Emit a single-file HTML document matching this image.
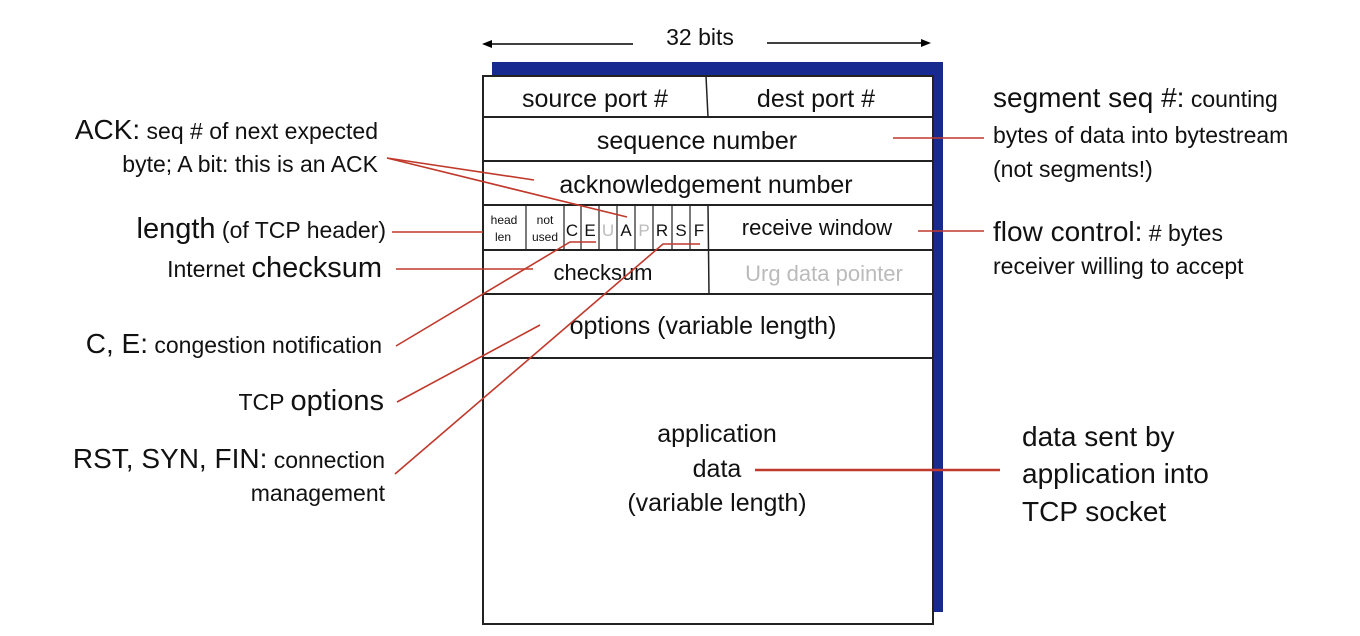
<!DOCTYPE html>
<html><head><meta charset="utf-8"><style>
html,body{margin:0;padding:0;background:#fff;}
svg{display:block;}
text{font-family:"Liberation Sans",sans-serif;fill:#111;}
</style></head><body>
<svg width="1360" height="636" viewBox="0 0 1360 636" xmlns="http://www.w3.org/2000/svg">
<line x1="484" y1="44" x2="633" y2="44" stroke="#000" stroke-width="1.5"/>
<polygon points="482,44 492,40 492,48" fill="#000"/>
<line x1="767" y1="43" x2="928" y2="43" stroke="#000" stroke-width="1.5"/>
<polygon points="931,43 921,39 921,47" fill="#000"/>
<text x="700" y="45" font-size="23" text-anchor="middle">32 bits</text>
<rect x="492" y="62" width="451" height="550" fill="#172a8f"/>
<rect x="483" y="76" width="450" height="548" fill="#fff" stroke="#222" stroke-width="2"/>
<g stroke="#222" stroke-width="2">
<line x1="483" y1="117" x2="933" y2="117"/>
<line x1="483" y1="161" x2="933" y2="161"/>
<line x1="483" y1="205" x2="933" y2="205"/>
<line x1="483" y1="250" x2="933" y2="250"/>
<line x1="483" y1="294" x2="933" y2="294"/>
<line x1="483" y1="358" x2="933" y2="358"/>
<line x1="706" y1="76" x2="708" y2="117" stroke-width="1.5"/>
<line x1="708" y1="205" x2="709" y2="294" stroke-width="1.5"/>
</g>
<g stroke="#222" stroke-width="1.2">
<line x1="526" y1="205" x2="526" y2="250"/>
<line x1="564" y1="205" x2="564" y2="250"/>
<line x1="581" y1="205" x2="581" y2="250"/>
<line x1="599" y1="205" x2="599" y2="250"/>
<line x1="617" y1="205" x2="617" y2="250"/>
<line x1="635" y1="205" x2="635" y2="250"/>
<line x1="653" y1="205" x2="653" y2="250"/>
<line x1="672" y1="205" x2="672" y2="250"/>
<line x1="690" y1="205" x2="690" y2="250"/>
</g>
<text x="595" y="107" font-size="25" text-anchor="middle">source port #</text>
<text x="816" y="107" font-size="25" text-anchor="middle">dest port #</text>
<text x="697" y="149" font-size="25" text-anchor="middle">sequence number</text>
<text x="706" y="193" font-size="25" text-anchor="middle">acknowledgement number</text>
<text x="504" y="224" font-size="12" text-anchor="middle">head</text>
<text x="503" y="241" font-size="12" text-anchor="middle">len</text>
<text x="545" y="224" font-size="12" text-anchor="middle">not</text>
<text x="545" y="241" font-size="12" text-anchor="middle">used</text>
<g font-size="17" text-anchor="middle">
<text x="572" y="236">C</text>
<text x="590" y="236">E</text>
<text x="608" y="236" style="fill:#bbb">U</text>
<text x="626" y="236">A</text>
<text x="644" y="236" style="fill:#bbb">P</text>
<text x="662" y="236">R</text>
<text x="681" y="236">S</text>
<text x="699" y="236">F</text>
</g>
<text x="817" y="235" font-size="22" text-anchor="middle">receive window</text>
<text x="603" y="280" font-size="22" text-anchor="middle">checksum</text>
<text x="824" y="281" font-size="22" text-anchor="middle" style="fill:#bbb">Urg data pointer</text>
<text x="703" y="334" font-size="25" text-anchor="middle">options (variable length)</text>
<text x="717" y="442" font-size="25" text-anchor="middle">application</text>
<text x="717" y="477" font-size="25" text-anchor="middle">data</text>
<text x="717" y="511" font-size="25" text-anchor="middle">(variable length)</text>
<g stroke="#c0392b" stroke-width="1.6" fill="none">
<line x1="387" y1="158" x2="534" y2="180"/>
<line x1="387" y1="158" x2="627" y2="217"/>
<line x1="392" y1="232" x2="483" y2="232"/>
<line x1="396" y1="269" x2="533" y2="269"/>
<polyline points="396,346 570,242 596,242"/>
<line x1="397" y1="402" x2="540" y2="325"/>
<polyline points="395,474 663,244 700,244"/>
<line x1="893" y1="138" x2="984" y2="138"/>
<line x1="918" y1="231" x2="984" y2="231"/>
<line x1="755" y1="470" x2="1000" y2="470" stroke-width="2.5"/>
</g>
<g text-anchor="end">
<text x="378" y="139"><tspan font-size="28">ACK:</tspan><tspan font-size="23"> seq # of next expected</tspan></text>
<text x="378" y="172" font-size="23">byte; A bit: this is an ACK</text>
<text x="386" y="238"><tspan font-size="29">length</tspan><tspan font-size="23"> (of TCP header)</tspan></text>
<text x="382" y="277"><tspan font-size="23">Internet </tspan><tspan font-size="29">checksum</tspan></text>
<text x="382" y="353"><tspan font-size="28">C, E:</tspan><tspan font-size="23"> congestion notification</tspan></text>
<text x="384" y="410"><tspan font-size="23">TCP </tspan><tspan font-size="29">options</tspan></text>
<text x="385" y="468"><tspan font-size="28">RST, SYN, FIN:</tspan><tspan font-size="23"> connection</tspan></text>
<text x="385" y="501" font-size="23">management</text>
</g>
<text x="993" y="107"><tspan font-size="28">segment seq  #:</tspan><tspan font-size="23"> counting</tspan></text>
<text x="993" y="143" font-size="23">bytes of data into bytestream</text>
<text x="993" y="177" font-size="23">(not segments!)</text>
<text x="993" y="241"><tspan font-size="28">flow control:</tspan><tspan font-size="23"> # bytes</tspan></text>
<text x="993" y="274" font-size="23">receiver willing to accept</text>
<text x="1022" y="446" font-size="28">data sent by</text>
<text x="1022" y="483" font-size="28">application into</text>
<text x="1022" y="521" font-size="28">TCP socket</text>
</svg>
</body></html>
